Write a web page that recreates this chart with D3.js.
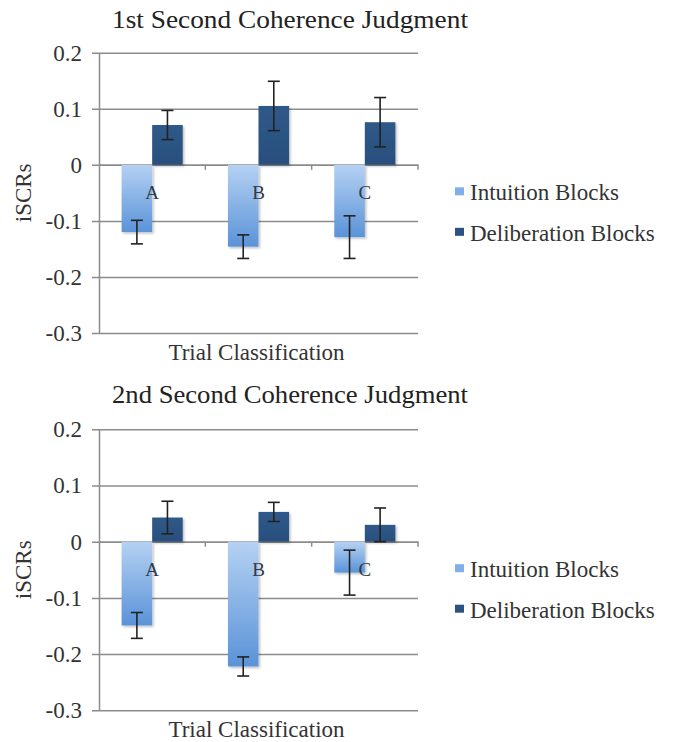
<!DOCTYPE html>
<html>
<head>
<meta charset="utf-8">
<script src="https://cdn.jsdelivr.net/npm/d3@7"></script>
<style>
  body { margin: 0; background: #fff; }
  svg, svg text { font-family: "Liberation Serif", "Times New Roman", serif !important; }
</style>
</head>
<body>
<svg id="chart" width="673" height="742"></svg>
<script>
const categories = ["A", "B", "C"];
const seriesNames = ["Intuition Blocks", "Deliberation Blocks"];
const yTicks = [0.2, 0.1, 0, -0.1, -0.2, -0.3];
const yTickLabels = ["0.2", "0.1", "0", "-0.1", "-0.2", "-0.3"];

const titles = ["1st Second Coherence Judgment", "2nd Second Coherence Judgment"];

const intuition1 = [-0.120, -0.146, -0.129];
const intuitionErr1 = [0.021, 0.021, 0.038];
const deliberation1 = [0.071, 0.105, 0.076];
const deliberationErr1 = [0.026, 0.044, 0.044];

const intuition2 = [-0.149, -0.222, -0.055];
const intuitionErr2 = [0.023, 0.017, 0.040];
const deliberation2 = [0.043, 0.053, 0.030];
const deliberationErr2 = [0.029, 0.017, 0.030];

const panels = [
  { title: titles[0], values: [intuition1, deliberation1], errs: [intuitionErr1, deliberationErr1], top: 52.7, bottom: 333, titleY: 28 },
  { title: titles[1], values: [intuition2, deliberation2], errs: [intuitionErr2, deliberationErr2], top: 429.3, bottom: 710.3, titleY: 403 }
];

const FONT = "'Liberation Serif', 'Times New Roman', serif";
const svg = d3.select("#chart");
const defs = svg.append("defs");
const grad = defs.append("linearGradient").attr("id", "gradIntuition")
  .attr("x1", 0).attr("y1", 0).attr("x2", 0).attr("y2", 1);
grad.append("stop").attr("offset", "0%").attr("stop-color", "#b5d1f3");
grad.append("stop").attr("offset", "100%").attr("stop-color", "#5a93d8");
const grad2 = defs.append("linearGradient").attr("id", "gradDelib")
  .attr("x1", 0).attr("y1", 0).attr("x2", 0).attr("y2", 1);
grad2.append("stop").attr("offset", "0%").attr("stop-color", "#2f5989");
grad2.append("stop").attr("offset", "100%").attr("stop-color", "#294f7d");
const shadow = defs.append("filter").attr("id", "shadow").attr("x", "-20%").attr("y", "-20%").attr("width", "150%").attr("height", "150%");
shadow.append("feDropShadow").attr("dx", 1.5).attr("dy", 1.5).attr("stdDeviation", 1.2).attr("flood-color", "#000").attr("flood-opacity", 0.25);

const fills = ["url(#gradIntuition)", "url(#gradDelib)"];
const legendFills = ["#7fb0ea", "#2b5283"];

const left = 99, right = 418;
const x = d3.scaleBand().domain(categories).range([left, right]).padding(0);
const xs = d3.scaleBand().domain(seriesNames).range([0, x.bandwidth()]).paddingInner(0).paddingOuter(0.74);

panels.forEach(p => {
  const g = svg.append("g");
  const y = d3.scaleLinear().domain([-0.3, 0.2]).range([p.bottom, p.top]);

  // title
  g.append("text").attr("x", 112).attr("y", p.titleY)
    .attr("font-size", 26).attr("fill", "#222")
    .attr("textLength", 356).attr("lengthAdjust", "spacingAndGlyphs")
    .text(p.title);

  // gridlines + y axis
  const yAxis = d3.axisLeft(y).tickValues(yTicks)
    .tickFormat((d, i) => yTickLabels[i])
    .tickSize(-(right - left)).tickSizeOuter(0).tickPadding(10);
  const ya = g.append("g").attr("transform", `translate(${left},0)`).call(yAxis)
    .attr("font-family", FONT);
  ya.select(".domain").attr("stroke", "#8c8c8c").attr("stroke-width", 1.5);
  ya.selectAll(".tick line").attr("stroke", "#8c8c8c").attr("stroke-width", 1.5)
    .attr("x1", -7);
  ya.selectAll(".tick text").attr("font-size", 23).attr("fill", "#333").attr("x", -17);

  // x axis at zero with small ticks at category boundaries
  const xAxis = d3.axisBottom(x).tickSize(0).tickFormat("");
  const xa = g.append("g").attr("transform", `translate(0,${y(0)})`).call(xAxis);
  xa.select(".domain").attr("stroke", "#8c8c8c").attr("stroke-width", 1.5);
  xa.selectAll(".tick").remove();
  xa.selectAll(".bnd").data(categories).enter().append("line")
    .attr("x1", d => x(d) + x.bandwidth()).attr("x2", d => x(d) + x.bandwidth())
    .attr("y1", 0).attr("y2", 5).attr("stroke", "#8c8c8c").attr("stroke-width", 1.5);

  // bars
  seriesNames.forEach((s, si) => {
    g.append("g").selectAll("rect").data(categories).enter().append("rect")
      .attr("x", d => x(d) + xs(s))
      .attr("width", xs.bandwidth())
      .attr("y", (d, i) => y(Math.max(0, p.values[si][i])))
      .attr("height", (d, i) => Math.abs(y(p.values[si][i]) - y(0)))
      .attr("fill", fills[si])
      .attr("filter", "url(#shadow)");
  });

  // category labels
  g.append("g").selectAll("text").data(categories).enter().append("text")
    .attr("x", d => x(d) + x.bandwidth() / 2)
    .attr("y", y(0) + 34)
    .attr("text-anchor", "middle").attr("font-size", 19).attr("fill", "#2f3a48")
    .text(d => d);

  // error bars
  seriesNames.forEach((s, si) => {
    const eg = g.append("g").attr("stroke", "#222").attr("stroke-width", 1.6);
    categories.forEach((c, i) => {
      const cx = x(c) + xs(s) + xs.bandwidth() / 2;
      const v = p.values[si][i], e = p.errs[si][i];
      eg.append("line").attr("x1", cx).attr("x2", cx).attr("y1", y(v + e)).attr("y2", y(v - e));
      eg.append("line").attr("x1", cx - 6).attr("x2", cx + 6).attr("y1", y(v + e)).attr("y2", y(v + e));
      eg.append("line").attr("x1", cx - 6).attr("x2", cx + 6).attr("y1", y(v - e)).attr("y2", y(v - e));
    });
  });

  // axis titles
  g.append("text").attr("x", (left + right) / 2 - 2).attr("y", p.bottom + 27)
    .attr("text-anchor", "middle").attr("font-size", 23).attr("fill", "#333")
    .text("Trial Classification");
  g.append("text").attr("transform", `translate(31,${(p.top + p.bottom) / 2}) rotate(-90)`)
    .attr("text-anchor", "middle").attr("font-size", 23).attr("fill", "#333")
    .text("iSCRs");

  // legend
  const lg = g.append("g");
  seriesNames.forEach((s, si) => {
    const by = y(0) + 35.5 + si * 40.5;
    lg.append("rect").attr("x", 455).attr("y", by - 13).attr("width", 9).attr("height", 8)
      .attr("fill", legendFills[si]);
    lg.append("text").attr("x", 470).attr("y", by).attr("font-size", 23).attr("fill", "#333").text(s);
  });

  g.selectAll("text").style("font-family", FONT);
});
</script>
</body>
</html>
